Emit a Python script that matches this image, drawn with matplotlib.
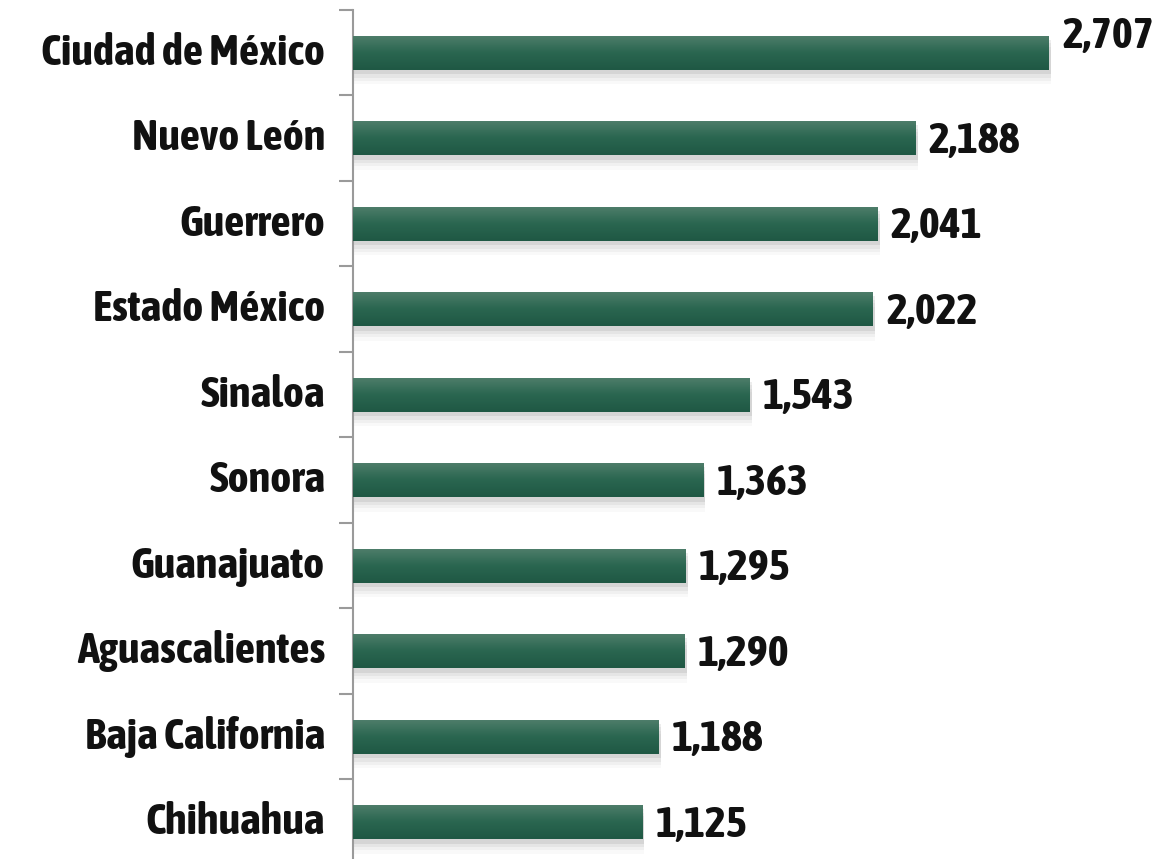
import matplotlib
matplotlib.use("Agg")
import matplotlib.pyplot as plt
import numpy as np
from matplotlib.colors import LinearSegmentedColormap
from matplotlib.transforms import offset_copy

states = ["Ciudad de México", "Nuevo León", "Guerrero", "Estado México", "Sinaloa",
          "Sonora", "Guanajuato", "Aguascalientes", "Baja California", "Chihuahua"]
values = [2707, 2188, 2041, 2022, 1543, 1363, 1295, 1290, 1188, 1125]
value_labels = ["2,707", "2,188", "2,041", "2,022", "1,543", "1,363", "1,295", "1,290", "1,188", "1,125"]

FONT = ["Asap Condensed", "DejaVu Sans"]
FS = 32

fig = plt.figure(figsize=(11.65, 8.59), dpi=100)
ax = fig.add_axes([353 / 1165, -6 / 859, 812 / 1165, 855 / 859])

n = len(states)
y = np.arange(n)
bar_h = 0.4

ax.set_xlim(0, 812 / (696 / 2707))
ax.set_ylim(n - 0.5, -0.5)

# soft shadow under bars
for dy, a in [(0.05, 0.10), (0.09, 0.07), (0.13, 0.05), (0.17, 0.03)]:
    ax.barh(y + dy, [v + 8 for v in values], height=bar_h, left=0,
            color="#555555", alpha=a, linewidth=0, zorder=1)

bars = ax.barh(y, values, height=bar_h, color="#245c48", linewidth=0, zorder=2)

grad = np.linspace(0, 1, 64).reshape(-1, 1)
cmap = LinearSegmentedColormap.from_list("g", ["#4f7e6b", "#2a6650", "#1f5844"])
for b in bars:
    x0, y0 = b.get_x(), b.get_y()
    w, h = b.get_width(), b.get_height()
    im = ax.imshow(grad, extent=[x0, x0 + w, y0 + h, y0], aspect="auto",
                   cmap=cmap, zorder=3, interpolation="bicubic")
    im.set_clip_path(b)

ax.set_yticks(np.arange(n + 1) - 0.5)
ax.set_yticklabels([])
ax.tick_params(axis="y", length=10, width=1.5, color="#9a9a9a", direction="out")
ax.set_xticks([])
for s in ["top", "right", "bottom"]:
    ax.spines[s].set_visible(False)
ax.spines["left"].set_color("#9a9a9a")
ax.spines["left"].set_linewidth(1.5)

lab_tr = offset_copy(ax.transData, fig=fig, x=-28, y=0, units="dots")
for i, name in enumerate(states):
    ax.text(0, i, name, ha="right", va="center", transform=lab_tr,
            fontsize=FS, fontweight="bold", family=FONT, fontstretch="condensed",
            color="#111111")

val_tr = offset_copy(ax.transData, fig=fig, x=13, y=0, units="dots")
for i, (v, lab) in enumerate(zip(values, value_labels)):
    dy = -0.2 if i == 0 else 0.03
    ax.text(v, i + dy, lab, ha="left", va="center", transform=val_tr,
            fontsize=FS, fontweight="bold", family=FONT, fontstretch="condensed",
            color="#111111")

fig.savefig("out.png", dpi=100)
